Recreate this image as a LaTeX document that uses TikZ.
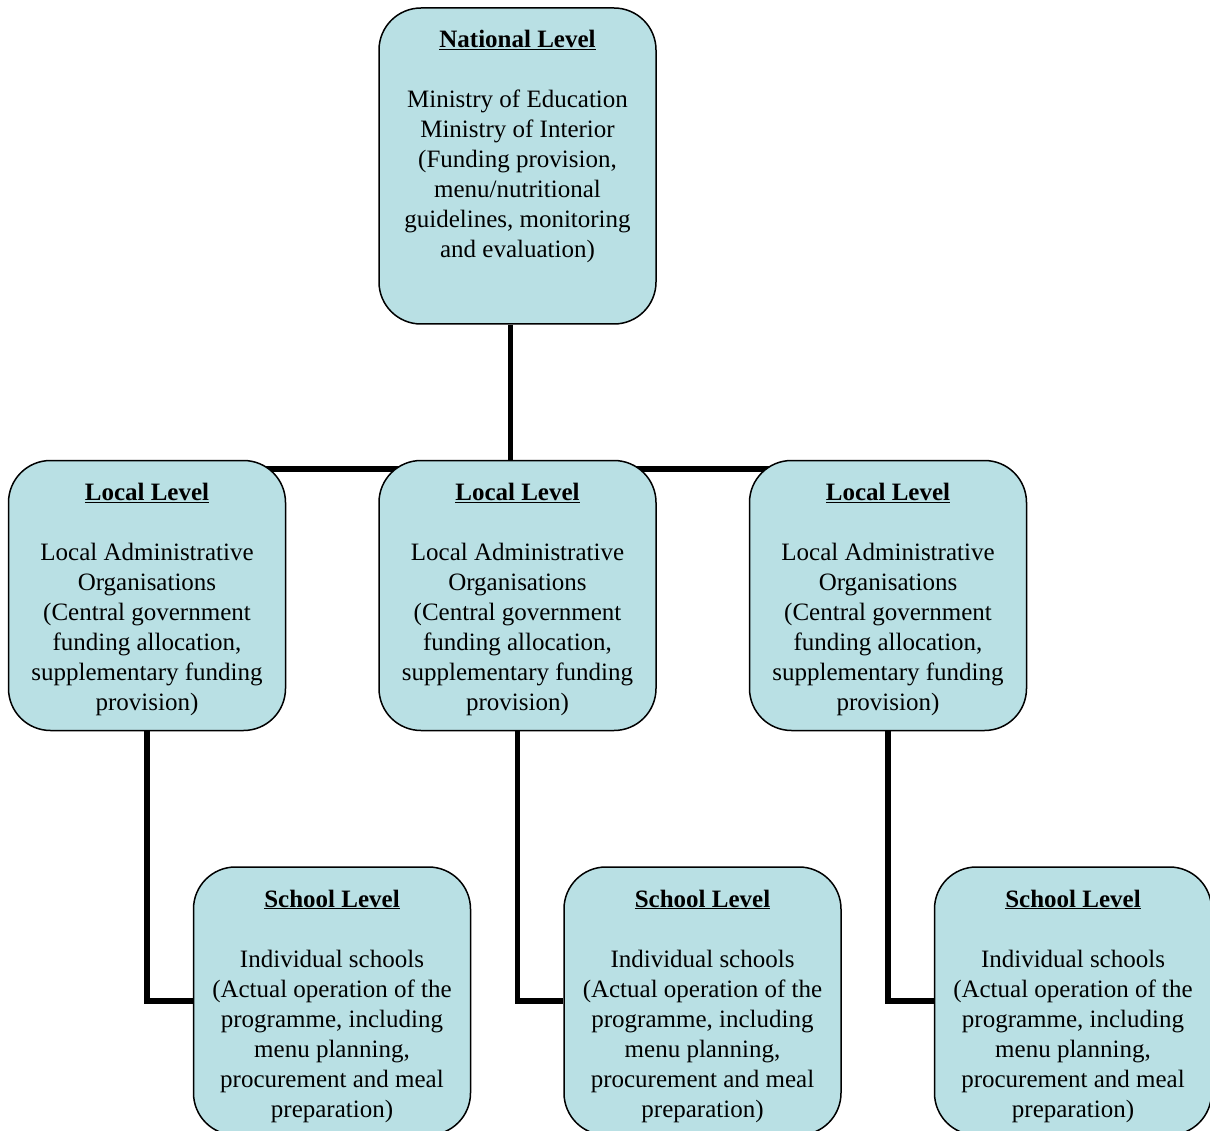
\documentclass[tikz,border=0pt]{standalone}
\usepackage{fontspec}
\setmainfont{Liberation Serif}
\usetikzlibrary{positioning,backgrounds}
\definecolor{levelblue}{RGB}{185,224,228}
\tikzset{
	level/.style={rectangle,draw,rounded corners=42pt,fill=levelblue,
		line width=1.5pt,inner sep=0pt,minimum width=277pt},
	link/.style={line width=5.5pt}
}
\newcommand{\leveltext}[3]{\parbox[c][#1][t]{270pt}{\centering
	\fontsize{25}{30}\selectfont\rule{0pt}{40pt}\underline{\textbf{#2}}\\[30pt]#3}}
\newcommand{\localbody}{Local Administrative\\Organisations\\(Central government\\funding allocation,\\supplementary funding\\provision)}
\newcommand{\schoolbody}{Individual schools\\(Actual operation of the\\programme, including\\menu planning,\\procurement and meal\\preparation)}

\begin{document}
\begin{tikzpicture}[x=1pt,y=-1pt]
	\useasboundingbox (0,0) rectangle (1210,1131);
	
	\node[level] (nat) at (517.5,166) {\leveltext{316pt}{National Level}{Ministry of Education\\Ministry of Interior\\(Funding provision,\\menu/nutritional\\guidelines, monitoring\\and evaluation)}};
	
	\node[level] (loc2) [below=135pt of nat] {\leveltext{270pt}{Local Level}{\localbody}};
	\node[level] (loc1) [left=92pt of loc2] {\leveltext{270pt}{Local Level}{\localbody}};
	\node[level] (loc3) [right=92pt of loc2] {\leveltext{270pt}{Local Level}{\localbody}};
	
	\node[level] (sch1) [below=135pt of loc1, xshift=185pt] {\leveltext{268pt}{School Level}{\schoolbody}};
	\node[level] (sch2) [below=135pt of loc2, xshift=185pt] {\leveltext{268pt}{School Level}{\schoolbody}};
	\node[level] (sch3) [below=135pt of loc3, xshift=185pt] {\leveltext{268pt}{School Level}{\schoolbody}};
	
	\begin{scope}[on background layer]
		\draw[link] ([xshift=-7pt]nat.south) -- ([xshift=-7pt]nat.south |- loc2.center);
		\draw[link] ([yshift=-9pt]loc1.north) -- ([yshift=-9pt]loc3.north);
		\draw[link] (loc1.south) |- (sch1.west);
		\draw[link] (loc2.south) |- (sch2.west);
		\draw[link] (loc3.south) |- (sch3.west);
	\end{scope}
\end{tikzpicture}
\end{document}
